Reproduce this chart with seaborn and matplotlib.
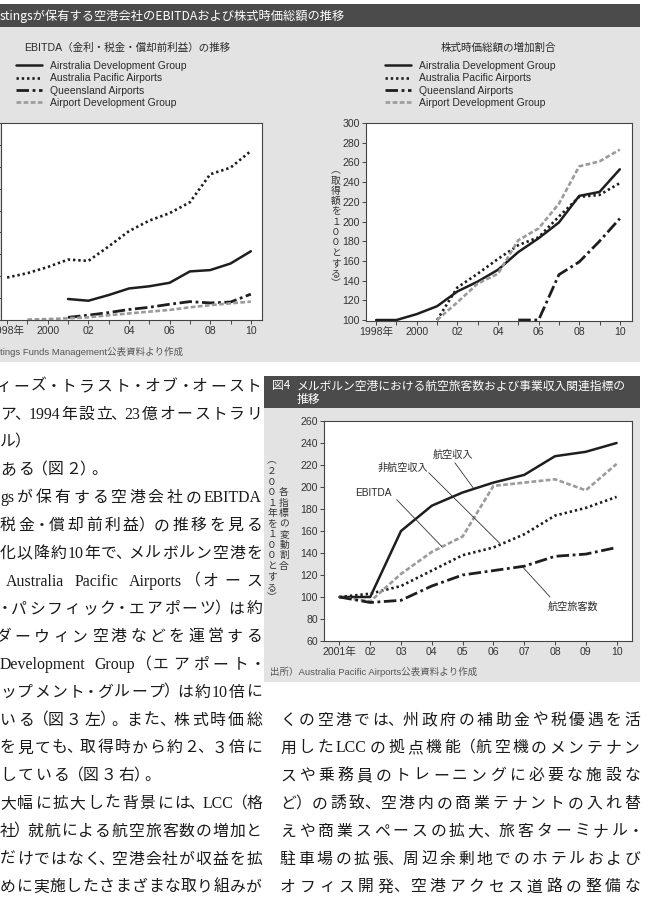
import re
import matplotlib
matplotlib.use('Agg')
import numpy as np
import pandas as pd
import seaborn as sns
import matplotlib.pyplot as plt
from matplotlib.lines import Line2D
from matplotlib.patches import Rectangle

nan = np.nan

# ---------------- data ----------------
years_98 = list(range(1998, 2011))
# EBITDA (left, arbitrary units, axis labels are cut off in the page)
ebitda_adg = [nan, nan, nan, 48, 44, 57, 72, 77, 85, 111, 114, 129, 157]
ebitda_apa = [97, 107, 121, 138, 135, 168, 203, 227, 244, 269, 333, 348, 386]
ebitda_qld = [nan, nan, nan, 6, 11, 17, 24, 29, 36, 42, 39, 41, 59]
ebitda_apdg = [nan, 1, 2, 4, 6, 11, 15, 19, 23, 29, 34, 38, 42]
# market capitalisation index (right, acquisition = 100)
mcap_adg = [100, 100, 106, 114, 129, 139, 151, 169, 183, 199, 226, 230, 253]
mcap_apa = [nan, nan, nan, 100, 133, 147, 162, 176, 184, 205, 225, 227, 239]
mcap_qld = [nan, nan, nan, nan, nan, nan, nan, 100, 100, 146, 159, 180, 203]
mcap_apdg = [nan, nan, nan, 100, 118, 137, 147, 181, 193, 218, 256, 261, 273]
series_names = ['Airstralia Development Group', 'Australia Pacific Airports',
                'Queensland Airports', 'Airport Development Group']
x_major = [1998, 2000, 2002, 2004, 2006, 2008, 2010]
x_major_labels = ['1998年', '2000', '02', '04', '06', '08', '10']

# figure 4 : Melbourne airport, 2001 = 100
years_01 = list(range(2001, 2011))
aero_rev = [100, 100, 160, 183, 195, 204, 211, 228, 232, 240]
nonaero_rev = [100, 103, 110, 124, 138, 145, 157, 174, 181, 191]
ebitda_mel = [100, 96, 121, 141, 155, 201, 204, 207, 197, 221]
passengers = [100, 95, 97, 110, 120, 124, 128, 137, 139, 145]
m_labels = ['航空収入', '非航空収入', 'EBITDA', '航空旅客数']
m_label_xy = [(2004.68, 229), (2003.05, 217), (2002.1, 194.5), (2008.6, 91)]
m_lead_from = [(2004.75, 222), (2003.9, 213), (2002.86, 188.5), (2007.84, 100)]
m_lead_to = [(2005.35, 199), (2006.2, 149), (2004.32, 146), (2006.96, 127)]
m_xlabels = ['2001年', '02', '03', '04', '05', '06', '07', '08', '09', '10']

left_lines = [
    'ィーズ・トラスト・オブ・オースト',
    'ア、1994年設立、23億オーストラリ',
    'ル）',
    'ある（図２）。',
    'gsが保有する空港会社のEBITDA',
    '税金・償却前利益）の推移を見る',
    '化以降約10年で、メルボルン空港を',
    'Australia Pacific Airports（オース',
    '・パシフィック・エアポーツ）は約',
    'ダーウィン空港などを運営する',
    'Development Group（エアポート・',
    'ップメント・グループ）は約10倍に',
    'いる（図３左）。また、株式時価総',
    'を見ても、取得時から約２、３倍に',
    'している（図３右）。',
    '大幅に拡大した背景には、LCC（格',
    '社）就航による航空旅客数の増加と',
    'だけではなく、空港会社が収益を拡',
    'めに実施したさまざまな取り組みが',
]
left_short = {2, 3, 14}
right_lines = [
    'くの空港では、州政府の補助金や税優遇を活',
    '用したLCCの拠点機能（航空機のメンテナン',
    'スや乗務員のトレーニングに必要な施設な',
    'ど）の誘致、空港内の商業テナントの入れ替',
    'えや商業スペースの拡大、旅客ターミナル・',
    '駐車場の拡張、周辺余剰地でのホテルおよび',
    'オフィス開発、空港アクセス道路の整備な',
]

# ---------------- style ----------------
sns.set_theme(style='ticks')
SANS = ['Liberation Sans', 'Noto Sans CJK JP', 'DejaVu Sans']
CJK = ['Noto Sans CJK JP', 'DejaVu Sans']
SERIF = ['Liberation Serif', 'Noto Sans CJK JP']
plt.rcParams['font.family'] = SANS

W, H = 653, 909
PANEL = '#e3e3e3'
BAR = '#4b4b4b'
INK = '#1e1e1e'
GREY_LINE = '#9b9b9b'
TXT = '#2a2a2a'

styles = {
    'Airstralia Development Group': dict(color=INK, linewidth=1.8, linestyle='-'),
    'Australia Pacific Airports': dict(color=INK, linewidth=1.9, linestyle=(0, (0.9, 1.1))),
    'Queensland Airports': dict(color=INK, linewidth=2.0, linestyle=(0, (4.5, 1.3, 1.0, 1.3))),
    'Airport Development Group': dict(color=GREY_LINE, linewidth=1.9, linestyle=(0, (1.8, 0.9))),
}
m_styles = {
    '航空収入': styles['Airstralia Development Group'],
    '非航空収入': styles['Australia Pacific Airports'],
    'EBITDA': styles['Airport Development Group'],
    '航空旅客数': styles['Queensland Airports'],
}

fig = plt.figure(figsize=(W / 100, H / 100), dpi=100)
fig.patch.set_facecolor('white')


def fx(x):
    return x / W


def fy(y):
    return 1 - y / H


def rect(l, t, r, b, color):
    fig.add_artist(Rectangle((fx(l), fy(b)), (r - l) / W, (b - t) / H,
                             transform=fig.transFigure, facecolor=color,
                             edgecolor='none', zorder=-5))


def ftext(x, y, s, **kw):
    kw.setdefault('color', TXT)
    return fig.text(fx(x), fy(y), s, **kw)


def px_axes(l, t, r, b):
    return fig.add_axes([fx(l), fy(b), (r - l) / W, (b - t) / H])


def style_axes(ax):
    ax.set_facecolor('white')
    for sp in ax.spines.values():
        sp.set_visible(True)
        sp.set_color('#444444')
        sp.set_linewidth(0.8)
    ax.tick_params(which='both', direction='out', length=3, width=0.7,
                   color='#444444', labelsize=7.6, labelcolor='#333333', pad=1.5)
    ax.set_xlabel('')
    ax.set_ylabel('')


def draw_series(ax, x, data, style_map):
    df = pd.DataFrame({'year': x, **data}).melt('year', var_name='series', value_name='value').dropna()
    for name in data:
        sub = df[df['series'] == name]
        sns.lineplot(data=sub, x='year', y='value', ax=ax, errorbar=None, **style_map[name])


def vtext(x, yc, s, step, fs):
    y0 = yc - step * (len(s) - 1) / 2
    for i, ch in enumerate(s):
        ftext(x, y0 + i * step, ch, ha='center', va='center', fontsize=fs,
              color='#333333', family=CJK)


# ---------------- figure 3 panel ----------------
rect(0, 27, 640, 362, PANEL)
rect(0, 4, 640, 27, BAR)
ftext(0, 16, 'stingsが保有する空港会社のEBITDAおよび株式時価総額の推移', color='white',
      fontsize=8.8, ha='left', va='center', family=CJK)

ftext(127, 48, 'EBITDA（金利・税金・償却前利益）の推移', ha='center', va='center', fontsize=7.6)
ftext(498, 48, '株式時価総額の増加割合', ha='center', va='center', fontsize=7.6)

handles = [Line2D([], [], **styles[n]) for n in series_names]
for lx in (16, 385):
    leg = fig.legend(handles, series_names, loc='upper left', bbox_to_anchor=(fx(lx), fy(61)),
                     frameon=False, fontsize=7.5, handlelength=2.5, handletextpad=0.8,
                     labelspacing=0.22, borderpad=0, borderaxespad=0)
    for t in leg.get_texts():
        t.set_color(TXT)

# left: EBITDA
ax1 = px_axes(1, 123, 262, 320)
draw_series(ax1, years_98, {'Airstralia Development Group': ebitda_adg,
                            'Australia Pacific Airports': ebitda_apa,
                            'Queensland Airports': ebitda_qld,
                            'Airport Development Group': ebitda_apdg}, styles)
ax1.set_xlim(1997.7, 2010.55)
ax1.set_ylim(0, 450)
ax1.set_yticks(range(0, 451, 50))
ax1.set_yticklabels([])
ax1.set_xticks(x_major)
ax1.set_xticklabels(x_major_labels)
ax1.set_xticks(range(1999, 2011, 2), minor=True)
style_axes(ax1)

# right: market cap
ax2 = px_axes(366, 123, 632, 321)
draw_series(ax2, years_98, {'Airstralia Development Group': mcap_adg,
                            'Australia Pacific Airports': mcap_apa,
                            'Queensland Airports': mcap_qld,
                            'Airport Development Group': mcap_apdg}, styles)
ax2.set_xlim(1997.5, 2010.6)
ax2.set_ylim(99, 300)
ax2.set_yticks(range(100, 301, 20))
ax2.set_xticks(x_major)
ax2.set_xticklabels(x_major_labels)
ax2.set_xticks(range(1999, 2011, 2), minor=True)
style_axes(ax2)
vtext(336, 227, '︵取得額を１００とする︶', 10.3, 7)

ftext(0, 352, 'tings Funds Management公表資料より作成', ha='left', va='center',
      fontsize=6.8, color='#555555')

# ---------------- figure 4 ----------------
rect(264, 376, 640, 682, PANEL)
rect(264, 376, 640, 408, BAR)
ftext(272, 386, '図4', color='white', fontsize=8.5, ha='left', va='center', family=CJK)
ftext(297, 386, 'メルボルン空港における航空旅客数および事業収入関連指標の', color='white',
      fontsize=8.5, ha='left', va='center', family=CJK)
ftext(297, 399, '推移', color='white', fontsize=8.5, ha='left', va='center', family=CJK)

ax3 = px_axes(324, 421, 632, 641)
draw_series(ax3, years_01, {'航空収入': aero_rev, '非航空収入': nonaero_rev,
                            'EBITDA': ebitda_mel, '航空旅客数': passengers}, m_styles)
ax3.set_xlim(2000.5, 2010.5)
ax3.set_ylim(60, 260)
ax3.set_yticks(range(60, 261, 20))
ax3.set_xticks(years_01)
ax3.set_xticklabels(m_xlabels)
style_axes(ax3)
for lab, xy, a, b in zip(m_labels, m_label_xy, m_lead_from, m_lead_to):
    ax3.text(xy[0], xy[1], lab, ha='center', va='center', fontsize=7.3, color=TXT)
    ax3.annotate('', xy=b, xytext=a,
                 arrowprops=dict(arrowstyle='-', lw=0.6, color='#333333', shrinkA=0, shrinkB=0))
vtext(272, 529, '︵２００１年を１００とする︶', 10.5, 7)
vtext(284, 529, '各指標の変動割合', 10.5, 7)
ftext(270, 672, '出所）Australia Pacific Airports公表資料より作成', ha='left', va='center',
      fontsize=6.8, color='#555555')

# ---------------- body text (justified columns) ----------------
BODY_FS = 11.4
EM = BODY_FS * 100 / 72
HALF = set('、。（）・')
renderer = fig.canvas.get_renderer()


def latin_width(s):
    t = fig.text(0, 0, s, fontsize=BODY_FS, family=SERIF)
    w = t.get_window_extent(renderer).width
    t.remove()
    return w


def body_line(s, x0, x1, yc, justify=True):
    toks = []
    gap = 0.0
    for p in re.findall(r'[A-Za-z0-9]+| +|.', s):
        if p.startswith(' '):
            gap = EM * 0.3
            continue
        if p.isascii():
            w = latin_width(p)
        elif p in HALF:
            w = EM * 0.6
        else:
            w = EM
        toks.append((p, w, gap))
        gap = 0.0
    natural = sum(t[1] for t in toks) + sum(t[2] for t in toks[1:])
    n = max(len(toks) - 1, 1)
    extra = (x1 - x0 - natural) / n if justify else 2.0
    x = x0
    yb = yc + 0.38 * EM
    for i, (p, w, g) in enumerate(toks):
        if i > 0:
            x += g + extra
        if p.isascii():
            ftext(x, yb, p, ha='left', va='baseline', fontsize=BODY_FS, family=SERIF, color='#1a1a1a')
        else:
            ftext(x + w / 2, yb, p, ha='center', va='baseline', fontsize=BODY_FS, family=SERIF,
                  color='#1a1a1a')
        x += w


LINE0, LINE_STEP = 385, 27.8
left_x0 = {0: -5, 7: 6, 9: -5}
for k, s in enumerate(left_lines):
    body_line(s, left_x0.get(k, 0), 262, LINE0 + k * LINE_STEP, justify=k not in left_short)
for k, s in enumerate(right_lines):
    body_line(s, 280, 640, LINE0 + (12 + k) * LINE_STEP)

fig.savefig('out.png', dpi=100, facecolor='white')
